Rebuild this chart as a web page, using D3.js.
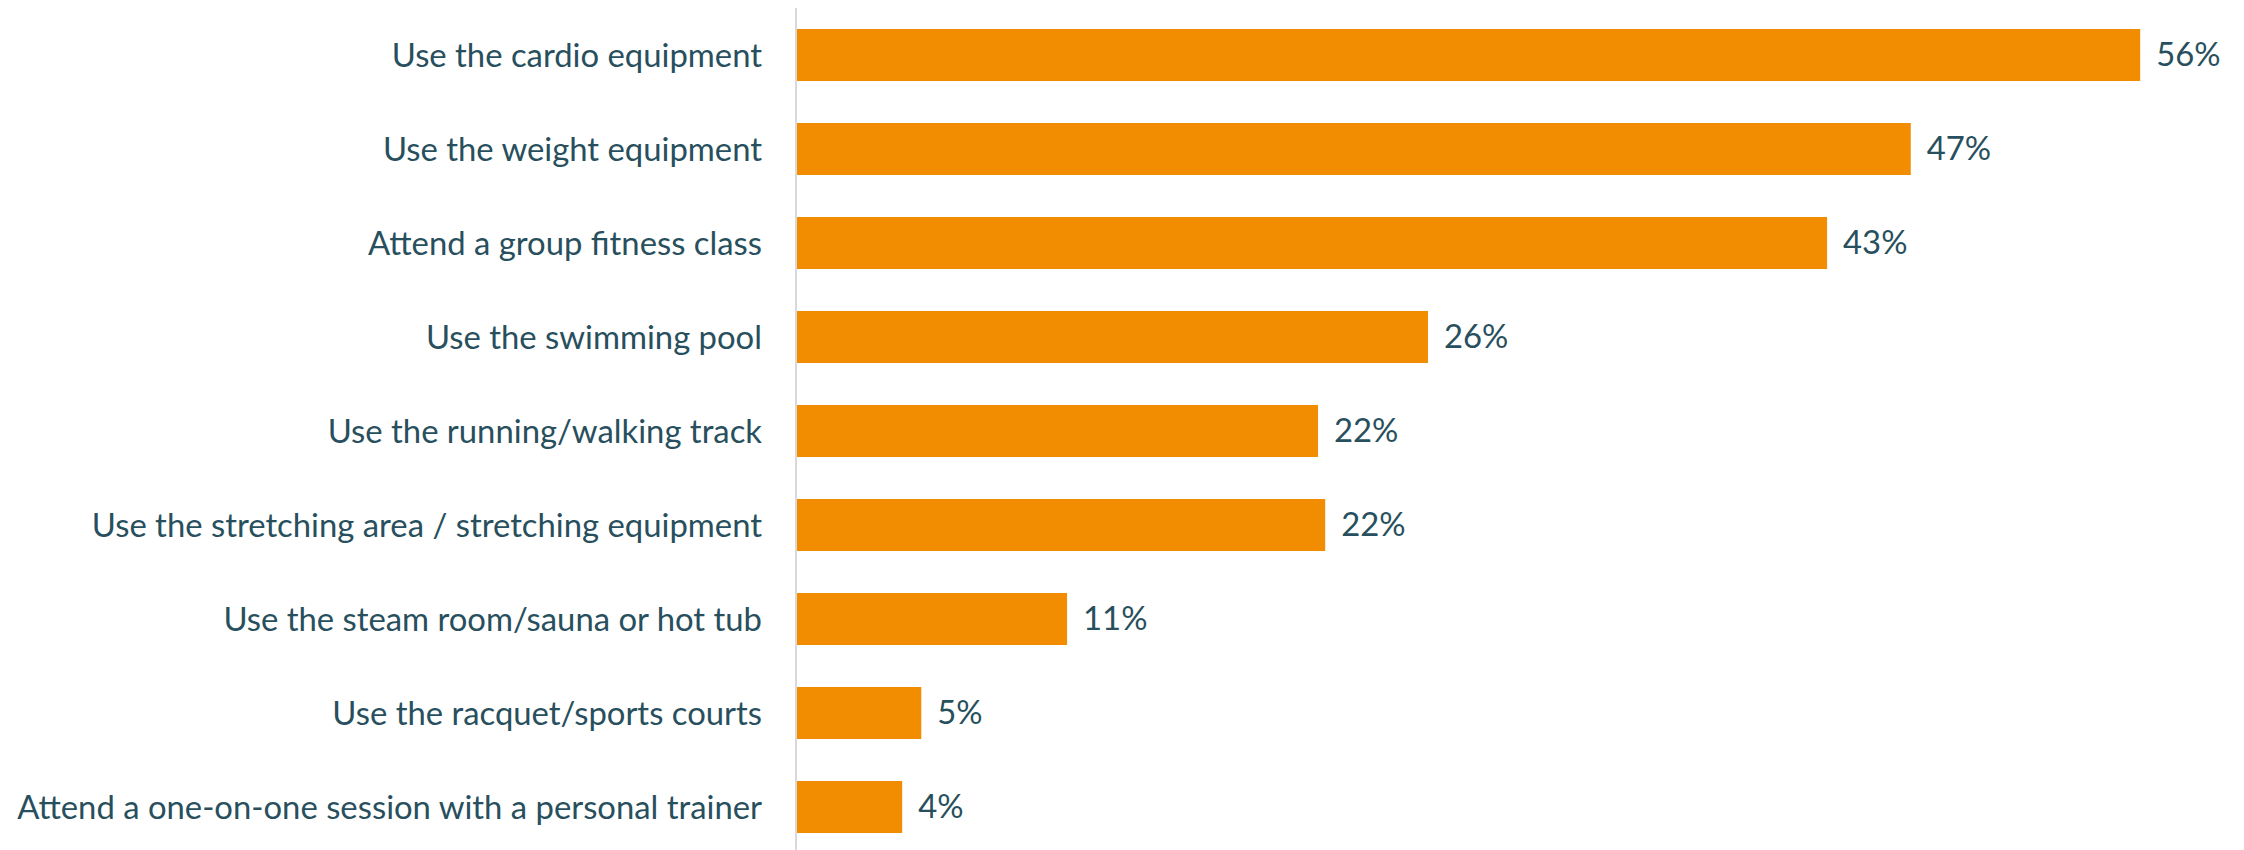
<!DOCTYPE html>
<html>
<head>
<meta charset="utf-8">
<script src="https://cdn.jsdelivr.net/npm/d3@7"></script>
<style>
  html, body { margin: 0; padding: 0; background: #ffffff; }
  svg { display: block; }
  text { font-family: Lato, "Open Sans", sans-serif; fill: #284f5d; }
</style>
</head>
<body>
<svg id="chart" width="2244" height="850"></svg>
<script>
// Share of members using each facility (%)
const categories = [
  "Use the cardio equipment",
  "Use the weight equipment",
  "Attend a group fitness class",
  "Use the swimming pool",
  "Use the running/walking track",
  "Use the stretching area / stretching equipment",
  "Use the steam room/sauna or hot tub",
  "Use the racquet/sports courts",
  "Attend a one-on-one session with a personal trainer"
];
const values = [56.2, 46.6, 43.1, 26.4, 21.8, 22.1, 11.3, 5.2, 4.4];
const xDomain = [0, 60];

const width = 2244, height = 850;
const axisX = 797;
const labelPad = 34;
const svg = d3.select("#chart");

const x = d3.scaleLinear().domain(xDomain).range([axisX, axisX + 60 * 23.9]);
const y = d3.scaleBand()
  .domain(categories)
  .range([8, 854])
  .paddingInner(42 / 94)
  .paddingOuter(21 / 94);

const fmt = v => d3.format(".0f")(v) + "%";
const data = categories.map((c, i) => ({ c, v: values[i] }));

// bars
svg.append("g").selectAll("rect")
  .data(data)
  .join("rect")
  .attr("x", x(0))
  .attr("y", d => y(d.c))
  .attr("width", d => x(d.v) - x(0))
  .attr("height", y.bandwidth())
  .attr("fill", "#f28c00");

// category labels
const yAxis = d3.axisLeft(y).tickSize(0).tickPadding(labelPad);
const gy = svg.append("g")
  .attr("transform", `translate(${axisX - 1},0)`)
  .call(yAxis);
gy.select(".domain").remove();
gy.selectAll("text")
  .attr("font-size", 34)
  .attr("dy", "0.35em")
  .style("font-family", "Lato, 'Open Sans', sans-serif")
  .attr("fill", "#284f5d");

// size the labels so the longest one fits the margin left of the axis
const maxLen = d3.max(gy.selectAll("text").nodes(), n => n.getComputedTextLength());
const fontSize = Math.min(34, 34 * (axisX - 1 - labelPad - 17) / maxLen);
gy.selectAll("text").attr("font-size", fontSize);

svg.append("line")
  .attr("x1", axisX - 1).attr("x2", axisX - 1)
  .attr("y1", 8).attr("y2", height)
  .attr("stroke", "#d9d9d9")
  .attr("stroke-width", 2);

// value labels
svg.append("g").selectAll("text")
  .data(data)
  .join("text")
  .attr("x", d => x(d.v) + 16)
  .attr("y", d => y(d.c) + y.bandwidth() / 2)
  .attr("dy", "0.35em")
  .attr("font-size", fontSize)
  .text(d => fmt(d.v));
</script>
</body>
</html>
